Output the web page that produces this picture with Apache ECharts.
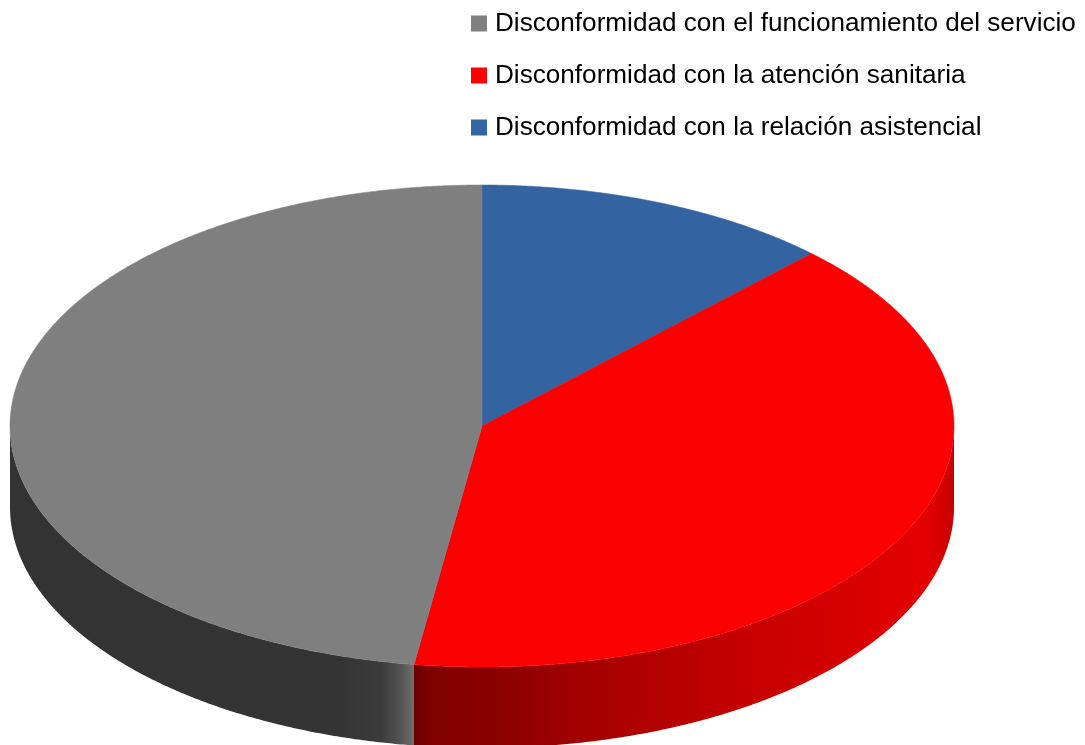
<!DOCTYPE html>
<html>
<head>
<meta charset="utf-8">
<style>html,body{margin:0;padding:0;background:#fff}#c{width:1085px;height:745px}</style>
<script src="https://cdn.jsdelivr.net/npm/echarts@6/dist/echarts.min.js"></script>
</head>
<body>
<div id="c"></div>
<script>
// Data, clockwise from twelve o'clock
const categories = ['Disconformidad con la relación asistencial', 'Disconformidad con la atención sanitaria', 'Disconformidad con el funcionamiento del servicio'];
const shares = [12.3, 40.0, 47.7];
const legendOrder = ['Disconformidad con el funcionamiento del servicio', 'Disconformidad con la atención sanitaria', 'Disconformidad con la relación asistencial'];
const colors = ['#3465A4', '#FF0000', '#808080'];
const faceColors = ['#3363A1', '#FA0000', '#7F7F7F'];

// Styles for the side walls (horizontal shading)
const wallStops = [
  null,
  [[0, '#6a0000'], [0.03, '#800000'], [0.15, '#8a0000'], [0.35, '#a80000'], [0.6, '#c40000'], [0.8, '#d60000'], [0.95, '#e40000'], [1, '#c80000']],
  [[0, '#333333'], [0.82, '#343434'], [0.92, '#3c3c3c'], [0.97, '#555555'], [1, '#6e6e6e']]
];
const view = { cx: 482, cy: 426, rx: 472, ry: 241, depth: 81 };

const total = shares.reduce((a, b) => a + b, 0);
function pt(deg, dy) {
  const t = deg * Math.PI / 180;
  return [view.cx + view.rx * Math.sin(t), view.cy - view.ry * Math.cos(t) + (dy || 0)];
}
function arc(a, b, dy) {
  const out = [], n = Math.max(2, Math.ceil(Math.abs(b - a) * 3));
  for (let i = 0; i <= n; i++) out.push(pt(a + (b - a) * i / n, dy));
  return out;
}
function startAngle(idx) {
  let s = 0;
  for (let i = 0; i < idx; i++) s += shares[i];
  return s / total * 360;
}
function renderSlice(idx) {
  return function (params, api) {
    const a = startAngle(idx), b = a + api.value(0) / total * 360;
    const children = [];
    const wa = Math.max(a, 90), wb = Math.min(b, 270);
    if (wb > wa) {
      const top = arc(wa, wb, 0), bottom = arc(wb, wa, view.depth);
      const xs = top.map(p => p[0]);
      const x0 = Math.min.apply(null, xs), x1 = Math.max.apply(null, xs);
      const stops = wallStops[idx].map(s => ({ offset: s[0], color: s[1] }));
      children.push({
        type: 'polygon',
        z2: 1,
        shape: { points: top.concat(bottom) },
        style: { fill: { type: 'linear', x: x0, y: 0, x2: x1, y2: 0, global: true, colorStops: stops }, stroke: null }
      });
    }
    children.push({
      type: 'polygon',
      z2: 2,
      shape: { points: [[view.cx, view.cy]].concat(arc(a, b, 0)) },
      style: { fill: faceColors[idx], stroke: faceColors[idx], lineWidth: 0.5 }
    });
    return { type: 'group', children: children };
  };
}

const chart = echarts.init(document.getElementById('c'), null, { renderer: 'canvas' });
chart.setOption({
  animation: false,
  backgroundColor: '#ffffff',
  legend: {
    data: legendOrder,
    orient: 'vertical',
    left: 471,
    top: 8,
    itemWidth: 16,
    itemHeight: 16,
    itemGap: 21,
    itemStyle: { borderWidth: 0 },
    icon: 'rect',
    selectedMode: false,
    padding: 0,
    textStyle: { fontFamily: 'Liberation Sans', fontSize: 26.13, color: '#000000', padding: [1, 0, 0, 3], lineHeight: 30 }
  },
  series: categories.map((name, i) => ({
    type: 'custom',
    name: name,
    coordinateSystem: 'none',
    renderItem: renderSlice(i),
    itemStyle: { color: colors[i] },
    data: [[shares[i]]],
    silent: true
  }))
});
</script>
</body>
</html>
